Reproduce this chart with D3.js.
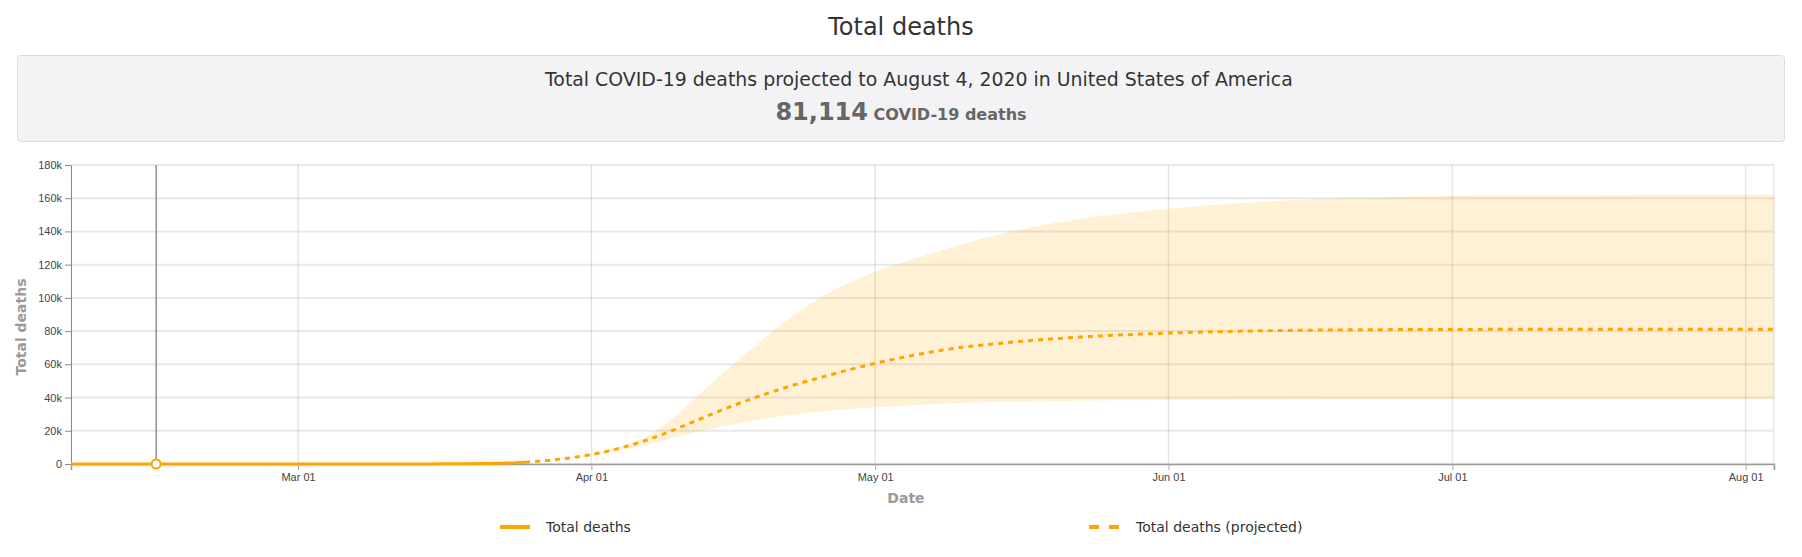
<!DOCTYPE html>
<html>
<head>
<meta charset="utf-8">
<script src="https://cdn.jsdelivr.net/npm/d3@7"></script>
<style>
  body { margin: 0; background: #fff; font-family: "DejaVu Sans", sans-serif; }
</style>
</head>
<body>
<div id="chart"></div>
<script>
/* observed cumulative deaths */
const observedDates = ["2020-02-06", "2020-02-28", "2020-02-29", "2020-03-01", "2020-03-02", "2020-03-03",
  "2020-03-04", "2020-03-05", "2020-03-06", "2020-03-07", "2020-03-08", "2020-03-09", "2020-03-10",
  "2020-03-11", "2020-03-12", "2020-03-13", "2020-03-14", "2020-03-15", "2020-03-16", "2020-03-17",
  "2020-03-18", "2020-03-19", "2020-03-20", "2020-03-21", "2020-03-22", "2020-03-23", "2020-03-24",
  "2020-03-25"];
const observedDeaths = [0, 0, 1, 1, 6, 9, 11, 12, 15, 19, 22, 26, 30, 38, 41, 48, 57, 68, 86, 109,
  150, 206, 255, 301, 414, 555, 780, 1030];

/* projection (mean + uncertainty band) */
const projectedDates = ["2020-03-25", "2020-03-28", "2020-04-01", "2020-04-04", "2020-04-07", "2020-04-10",
  "2020-04-13", "2020-04-16", "2020-04-19", "2020-04-22", "2020-04-25", "2020-04-28", "2020-05-01",
  "2020-05-05", "2020-05-08", "2020-05-15", "2020-05-22", "2020-06-01", "2020-06-12", "2020-06-30",
  "2020-07-15", "2020-08-04"];
const projectedMean = [1030, 2500, 5700, 9500, 14700, 21200, 28300, 35200, 41300, 46900, 51700, 56400,
  60600, 65400, 68500, 73100, 76200, 78800, 80300, 81000, 81100, 81114];
const projectedLower = [1030, 2300, 5000, 8300, 11800, 16300, 20500, 24000, 27000, 29500, 31500, 33000,
  34200, 35400, 36200, 37400, 38100, 38600, 38900, 39100, 39200, 39200];
const projectedUpper = [1030, 2900, 6200, 10500, 17000, 29500, 45000, 60000, 74500, 88000, 99500, 108500,
  115800, 123300, 128600, 139300, 147000, 153600, 158200, 161300, 161900, 162106];

const xDomain = ["2020-02-06", "2020-08-04"];
const yTicks = [0, 20000, 40000, 60000, 80000, 100000, 120000, 140000, 160000, 180000];
const markerDate = "2020-02-15";
const markerValue = 0;

const chartTitle = "Total deaths";
const summaryText = "Total COVID-19 deaths projected to August 4, 2020 in United States of America";
const summaryValue = 81114;
const summaryUnit = "COVID-19 deaths";
const legendLabels = ["Total deaths", "Total deaths (projected)"];

const orange = "#ffa500";
const width = 1802;
const height = 557;
const margin = { top: 165, right: 28, bottom: 93, left: 71 };

const parse = d3.utcParse("%Y-%m-%d");
const observed = observedDates.map((d, i) => ({ date: parse(d), value: observedDeaths[i] }));
const projected = projectedDates.map((d, i) => ({
  date: parse(d),
  mean: projectedMean[i],
  lower: projectedLower[i],
  upper: projectedUpper[i],
}));

const svg = d3.select("#chart")
  .append("svg")
  .attr("width", width)
  .attr("height", height)
  .style("font-family", "'DejaVu Sans', sans-serif");

/* header */
svg.append("text")
  .attr("x", width / 2)
  .attr("y", 35)
  .attr("text-anchor", "middle")
  .style("font-size", "24px")
  .style("fill", "#333")
  .text(chartTitle);

svg.append("rect")
  .attr("x", 17.5)
  .attr("y", 55.5)
  .attr("width", width - 35)
  .attr("height", 86)
  .attr("rx", 3)
  .attr("fill", "#f3f3f5")
  .attr("stroke", "#dcdcdc");

svg.append("text")
  .attr("x", 545)
  .attr("y", 86)
  .style("font-size", "18.9px")
  .style("fill", "#333")
  .text(summaryText);

const summary = svg.append("text")
  .attr("x", width / 2)
  .attr("y", 120)
  .attr("text-anchor", "middle")
  .style("font-weight", "bold")
  .style("fill", "#666");
summary.append("tspan").style("font-size", "24px").text(d3.format(",")(summaryValue));
summary.append("tspan").style("font-size", "16px").text(" " + summaryUnit);

/* scales */
const x = d3.scaleUtc()
  .domain(xDomain.map(parse))
  .range([margin.left, width - margin.right]);
const y = d3.scaleLinear()
  .domain([0, 180000])
  .range([height - margin.bottom, margin.top]);

const plotBottom = height - margin.bottom;
const monthTicks = x.ticks(d3.utcMonth.every(1));

/* grid */
svg.append("g")
  .selectAll("line")
  .data(yTicks)
  .join("line")
  .attr("x1", margin.left)
  .attr("x2", width - margin.right)
  .attr("y1", (d) => y(d))
  .attr("y2", (d) => y(d))
  .attr("stroke", "#000")
  .attr("stroke-opacity", 0.09)
  .attr("stroke-width", 2);
svg.append("g")
  .selectAll("line")
  .data(monthTicks)
  .join("line")
  .attr("x1", (d) => x(d))
  .attr("x2", (d) => x(d))
  .attr("y1", margin.top)
  .attr("y2", plotBottom)
  .attr("stroke", "#000")
  .attr("stroke-opacity", 0.1)
  .attr("stroke-width", 1.5);
svg.append("line")
  .attr("x1", width - margin.right)
  .attr("x2", width - margin.right)
  .attr("y1", margin.top)
  .attr("y2", plotBottom)
  .attr("stroke", "#ddd");

/* uncertainty band */
svg.append("path")
  .datum(projected)
  .attr("fill", orange)
  .attr("fill-opacity", 0.16)
  .attr("d", d3.area()
    .x((d) => x(d.date))
    .y0((d) => y(d.lower))
    .y1((d) => y(d.upper))
    .curve(d3.curveMonotoneX));

/* axes */
svg.append("g")
  .attr("transform", `translate(${margin.left},0)`)
  .call(d3.axisLeft(y).tickValues(yTicks).tickSizeOuter(0)
    .tickFormat((d) => (d === 0 ? "0" : d / 1000 + "k")))
  .call((g) => g.selectAll("line, path").attr("stroke", "#888"))
  .call((g) => g.selectAll("text").style("font-size", "11px").attr("fill", "#444"));

svg.append("g")
  .attr("transform", `translate(0,${plotBottom})`)
  .call(d3.axisBottom(x).tickValues(monthTicks).tickFormat(d3.utcFormat("%b %d")))
  .call((g) => g.select(".domain").attr("stroke", "#999").attr("stroke-width", 1.5))
  .call((g) => g.selectAll(".tick line").attr("stroke", "#aaa"))
  .call((g) => g.selectAll("text").style("font-size", "11px").attr("fill", "#444"));

svg.append("text")
  .attr("transform", `translate(21,327) rotate(-90)`)
  .attr("text-anchor", "middle")
  .attr("dy", "0.35em")
  .style("font-size", "14px")
  .style("font-weight", "bold")
  .style("fill", "#999")
  .text("Total deaths");

svg.append("text")
  .attr("x", 906)
  .attr("y", 503)
  .attr("text-anchor", "middle")
  .style("font-size", "14px")
  .style("font-weight", "bold")
  .style("fill", "#999")
  .text("Date");

/* marker line + point */
svg.append("line")
  .attr("x1", x(parse(markerDate)))
  .attr("x2", x(parse(markerDate)))
  .attr("y1", margin.top)
  .attr("y2", plotBottom)
  .attr("stroke", "#777")
  .attr("stroke-width", 1.2);

/* lines */
svg.append("path")
  .datum(observed)
  .attr("fill", "none")
  .attr("stroke", orange)
  .attr("stroke-width", 3)
  .attr("d", d3.line().x((d) => x(d.date)).y((d) => y(d.value)).curve(d3.curveMonotoneX));

svg.append("path")
  .datum(projected)
  .attr("fill", "none")
  .attr("stroke", orange)
  .attr("stroke-width", 3)
  .attr("stroke-dasharray", "5,5")
  .attr("d", d3.line().x((d) => x(d.date)).y((d) => y(d.mean)).curve(d3.curveMonotoneX));

svg.append("circle")
  .attr("cx", x(parse(markerDate)))
  .attr("cy", y(markerValue))
  .attr("r", 4.5)
  .attr("fill", "#fff")
  .attr("stroke", orange)
  .attr("stroke-width", 2);

/* legend */
const legendY = 527;
const legendX = [500, 1089];
const legend = svg.append("g")
  .selectAll("g")
  .data(legendLabels)
  .join("g")
  .attr("transform", (d, i) => `translate(${legendX[i]},${legendY})`);
legend.append("line")
  .attr("x1", 0)
  .attr("x2", 30)
  .attr("stroke", orange)
  .attr("stroke-width", 4)
  .attr("stroke-dasharray", (d, i) => (i === 1 ? "10,10" : null));
legend.append("text")
  .attr("x", (d, i) => (i === 1 ? 47 : 46))
  .attr("dy", "0.35em")
  .style("font-size", "14px")
  .style("fill", "#333")
  .text((d) => d);
</script>
</body>
</html>
